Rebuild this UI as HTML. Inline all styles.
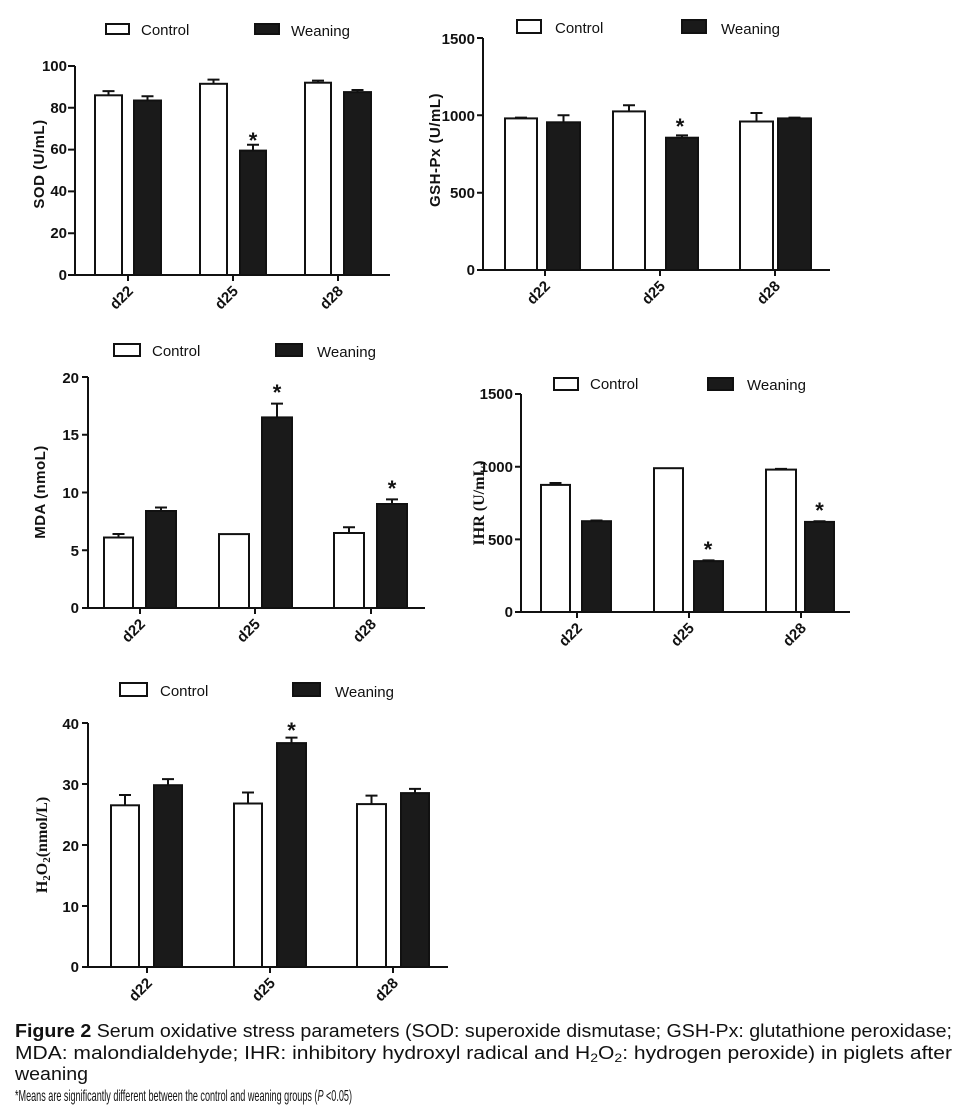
<!DOCTYPE html>
<html><head><meta charset="utf-8"><style>
html,body{margin:0;padding:0;background:#fff;width:969px;height:1118px;overflow:hidden}
svg{display:block}
.t{font-family:"Liberation Sans",Arial,sans-serif;font-weight:bold;font-size:15px;fill:#111}
.y{font-family:"Liberation Sans",Arial,sans-serif;font-weight:bold;font-size:15px;fill:#111;letter-spacing:0.5px}
.st{font-family:"Liberation Sans",Arial,sans-serif;font-weight:bold;font-size:22px;fill:#111}
.l{font-family:"Liberation Sans",Arial,sans-serif;font-size:15px;fill:#111}
.s{font-family:"Liberation Serif",serif;font-weight:bold;font-size:16px;fill:#111}
.c{font-family:"Liberation Sans",Arial,sans-serif;fill:#111}
</style></head><body>
<svg width="969" height="1118" viewBox="0 0 969 1118" xmlns="http://www.w3.org/2000/svg">
<g stroke="#111" stroke-width="2" fill="none">
<path d="M75 66V275H390M68 66H75M68 233.2H75M68 191.4H75M68 149.6H75M68 107.8H75M68 275H75M128 275V281M233 275V281M338 275V281"/>
<rect x="95" y="95.3" width="27" height="179.7" fill="#fff"/>
<rect x="134" y="100.5" width="27" height="174.5" fill="#1a1a1a"/>
<rect x="200" y="83.8" width="27" height="191.2" fill="#fff"/>
<rect x="240" y="150.6" width="26" height="124.4" fill="#1a1a1a"/>
<rect x="305" y="82.7" width="26" height="192.3" fill="#fff"/>
<rect x="344" y="92.1" width="27" height="182.9" fill="#1a1a1a"/>
<path d="M108.5 95V91.1M102.5 91.1H114.5M147.5 100V96.3M141.5 96.3H153.5M213.5 83V79.6M207.5 79.6H219.5M253 150V144.8M247 144.8H259M318 82V80.6M312 80.6H324M357.5 92V90M351.5 90H363.5"/>
<rect x="106" y="24" width="23" height="10" fill="#fff"/>
<rect x="255" y="24" width="24" height="10" fill="#1a1a1a"/>
<path d="M483 38V270H830M477 38H483M477 115.3H483M477 192.7H483M477 270H483M545 270V276M660 270V276M775 270V276"/>
<rect x="505" y="118.4" width="32" height="151.6" fill="#fff"/>
<rect x="547" y="122.3" width="33" height="147.7" fill="#1a1a1a"/>
<rect x="613" y="111.4" width="32" height="158.6" fill="#fff"/>
<rect x="666" y="137.7" width="32" height="132.3" fill="#1a1a1a"/>
<rect x="740" y="121.5" width="33" height="148.5" fill="#fff"/>
<rect x="778" y="118.4" width="33" height="151.6" fill="#1a1a1a"/>
<path d="M521 118V117.6M515 117.6H527M563.5 122V115.3M557.5 115.3H569.5M629 111V105.2M623 105.2H635M682 137V135.4M676 135.4H688M756.5 121V113M750.5 113H762.5M794.5 118V117.6M788.5 117.6H800.5"/>
<rect x="517" y="20" width="24" height="13" fill="#fff"/>
<rect x="682" y="20" width="24" height="13" fill="#1a1a1a"/>
<path d="M88 377V608H425M82 377H88M82 434.75H88M82 492.5H88M82 550.25H88M82 608H88M140 608V614M255 608V614M371 608V614"/>
<rect x="104" y="537.5" width="29" height="70.5" fill="#fff"/>
<rect x="146" y="511" width="30" height="97" fill="#1a1a1a"/>
<rect x="219" y="534.1" width="30" height="73.9" fill="#fff"/>
<rect x="262" y="417.4" width="30" height="190.6" fill="#1a1a1a"/>
<rect x="334" y="533" width="30" height="75" fill="#fff"/>
<rect x="377" y="504" width="30" height="104" fill="#1a1a1a"/>
<path d="M118.5 537V534M112.5 534H124.5M161 510V507.5M155 507.5H167M277 417V403.6M271 403.6H283M349 533V527.2M343 527.2H355M392 504V499.4M386 499.4H398"/>
<rect x="114" y="344" width="26" height="12" fill="#fff"/>
<rect x="276" y="344" width="26" height="12" fill="#1a1a1a"/>
<path d="M521 394V612H850M515 394H521M515 466.7H521M515 539.35H521M515 612H521M577 612V618M689 612V618M801 612V618"/>
<rect x="541" y="484.9" width="29" height="127.1" fill="#fff"/>
<rect x="582" y="521.2" width="29" height="90.8" fill="#1a1a1a"/>
<rect x="654" y="468.2" width="29" height="143.8" fill="#fff"/>
<rect x="694" y="561.1" width="29" height="50.9" fill="#1a1a1a"/>
<rect x="766" y="469.6" width="30" height="142.4" fill="#fff"/>
<rect x="805" y="521.9" width="29" height="90.1" fill="#1a1a1a"/>
<path d="M555.5 484V483M549.5 483H561.5M596.5 521V520.5M590.5 520.5H602.5M708.5 561V560.4M702.5 560.4H714.5M781 469V468.9M775 468.9H787M819.5 521.5V521.2M813.5 521.2H825.5"/>
<rect x="554" y="378" width="24" height="12" fill="#fff"/>
<rect x="708" y="378" width="25" height="12" fill="#1a1a1a"/>
<path d="M88 723V967H448M82 723H88M82 784H88M82 845H88M82 906H88M82 967H88M147 967V973M270 967V973M393 967V973"/>
<rect x="111" y="805.3" width="28" height="161.7" fill="#fff"/>
<rect x="154" y="785.2" width="28" height="181.8" fill="#1a1a1a"/>
<rect x="234" y="803.5" width="28" height="163.5" fill="#fff"/>
<rect x="277" y="743.1" width="29" height="223.9" fill="#1a1a1a"/>
<rect x="357" y="804.1" width="29" height="162.9" fill="#fff"/>
<rect x="401" y="793.1" width="28" height="173.9" fill="#1a1a1a"/>
<path d="M125 805V795M119 795H131M168 785V779.1M162 779.1H174M248 803V792.5M242 792.5H254M291.5 743V737.6M285.5 737.6H297.5M371.5 804V795.6M365.5 795.6H377.5M415 793V788.9M409 788.9H421"/>
<rect x="120" y="683" width="27" height="13" fill="#fff"/>
<rect x="293" y="683" width="27" height="13" fill="#1a1a1a"/>
</g>

<text class="l" x="141" y="35">Control</text><text class="l" x="291" y="36">Weaning</text>
<g class="t" text-anchor="end"><text x="67" y="71">100</text><text x="67" y="238">20</text><text x="67" y="196">40</text><text x="67" y="154">60</text><text x="67" y="113">80</text><text x="67" y="280">0</text></g>
<text class="y" transform="translate(44,164) rotate(-90)" text-anchor="middle">SOD  (U/mL)</text>
<text class="st" x="253" y="148" text-anchor="middle">*</text>
<g class="t" text-anchor="end"><text transform="translate(134,292) rotate(-45)">d22</text><text transform="translate(239,292) rotate(-45)">d25</text><text transform="translate(344,292) rotate(-45)">d28</text></g>

<text class="l" x="555" y="33">Control</text><text class="l" x="721" y="34">Weaning</text>
<g class="t" text-anchor="end"><text x="475" y="44">1500</text><text x="475" y="121">1000</text><text x="475" y="198">500</text><text x="475" y="275">0</text></g>
<text class="y" transform="translate(440,150) rotate(-90)" text-anchor="middle">GSH-Px  (U/mL)</text>
<text class="st" x="680" y="134" text-anchor="middle">*</text>
<g class="t" text-anchor="end"><text transform="translate(551,287) rotate(-45)">d22</text><text transform="translate(666,287) rotate(-45)">d25</text><text transform="translate(781,287) rotate(-45)">d28</text></g>

<text class="l" x="152" y="356">Control</text><text class="l" x="317" y="357">Weaning</text>
<g class="t" text-anchor="end"><text x="79" y="383">20</text><text x="79" y="440">15</text><text x="79" y="498">10</text><text x="79" y="556">5</text><text x="79" y="613">0</text></g>
<text class="y" transform="translate(45,492) rotate(-90)" text-anchor="middle">MDA  (nmoL)</text>
<text class="st" x="277" y="400" text-anchor="middle">*</text>
<text class="st" x="392" y="496" text-anchor="middle">*</text>
<g class="t" text-anchor="end"><text transform="translate(146,625) rotate(-45)">d22</text><text transform="translate(261,625) rotate(-45)">d25</text><text transform="translate(377,625) rotate(-45)">d28</text></g>

<text class="l" x="590" y="389">Control</text><text class="l" x="747" y="390">Weaning</text>
<g class="t" text-anchor="end"><text x="513" y="399">1500</text><text x="513" y="472">1000</text><text x="513" y="545">500</text><text x="513" y="617">0</text></g>
<text class="s" transform="translate(484,503) rotate(-90)" text-anchor="middle">IHR   (U/mL)</text>
<text class="st" x="708" y="557" text-anchor="middle">*</text>
<text class="st" x="819.5" y="518" text-anchor="middle">*</text>
<g class="t" text-anchor="end"><text transform="translate(583,629) rotate(-45)">d22</text><text transform="translate(695,629) rotate(-45)">d25</text><text transform="translate(807,629) rotate(-45)">d28</text></g>

<text class="l" x="160" y="696">Control</text><text class="l" x="335" y="697">Weaning</text>
<g class="t" text-anchor="end"><text x="79" y="729">40</text><text x="79" y="790">30</text><text x="79" y="851">20</text><text x="79" y="912">10</text><text x="79" y="972">0</text></g>
<text class="s" transform="translate(47,845) rotate(-90)" text-anchor="middle">H<tspan style="font-size:11px" dy="3">2</tspan><tspan dy="-3">O</tspan><tspan style="font-size:11px" dy="3">2</tspan><tspan dy="-3">(nmol/L)</tspan></text>
<text class="st" x="291.5" y="738" text-anchor="middle">*</text>
<g class="t" text-anchor="end"><text transform="translate(153,984) rotate(-45)">d22</text><text transform="translate(276,984) rotate(-45)">d25</text><text transform="translate(399,984) rotate(-45)">d28</text></g>

<text class="c" style="font-size:18px" x="15" y="1037" textLength="937" lengthAdjust="spacingAndGlyphs"><tspan font-weight="bold">Figure 2</tspan> Serum oxidative stress parameters (SOD: superoxide dismutase; GSH-Px: glutathione peroxidase;</text>
<text class="c" style="font-size:18px" x="15" y="1059" textLength="937" lengthAdjust="spacingAndGlyphs">MDA:  malondialdehyde;  IHR:  inhibitory  hydroxyl  radical  and  H<tspan style="font-size:12px" dy="3">2</tspan><tspan dy="-3">O</tspan><tspan style="font-size:12px" dy="3">2</tspan><tspan dy="-3">:  hydrogen  peroxide)  in  piglets  after</tspan></text>
<text class="c" style="font-size:18px" x="15" y="1080" textLength="73" lengthAdjust="spacingAndGlyphs">weaning</text>
<text class="c" style="font-size:16px" x="15" y="1101" textLength="337" lengthAdjust="spacingAndGlyphs">*Means are significantly different between the control and weaning groups (<tspan font-style="italic">P</tspan> &lt;0.05)</text>
</svg>
</body></html>
